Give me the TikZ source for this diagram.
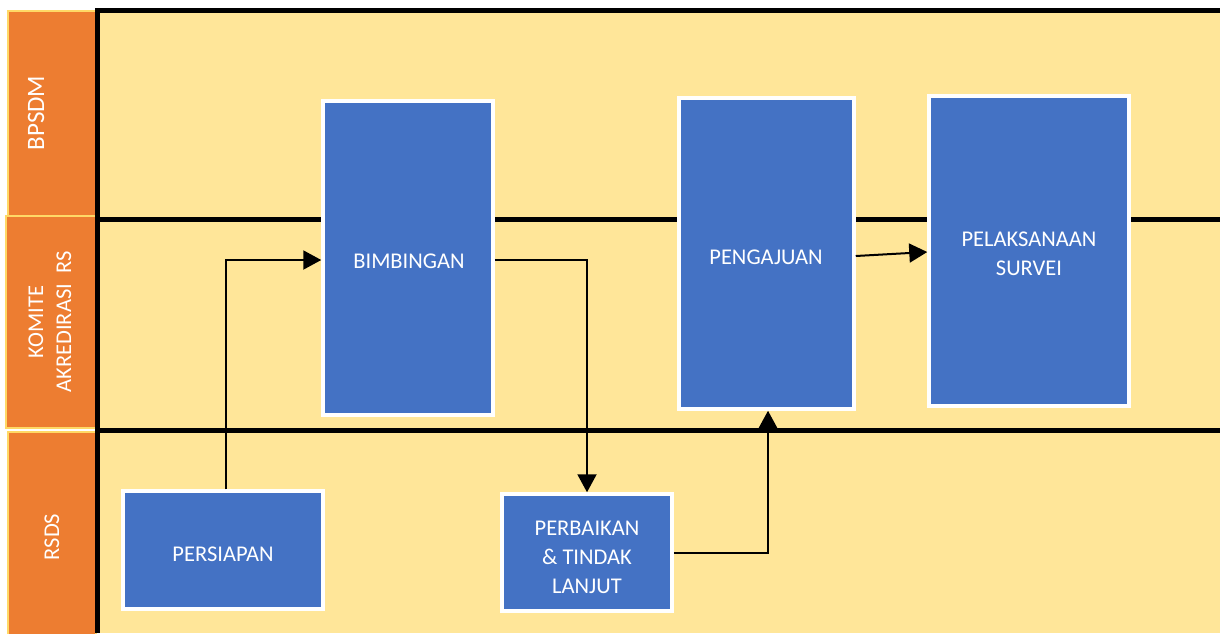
\documentclass[tikz,border=0pt]{standalone}
\usepackage{fontspec}
\setmainfont{Carlito}
\usetikzlibrary{arrows.meta}
\definecolor{lanebg}{HTML}{FFE699}
\definecolor{laneor}{HTML}{ED7D31}
\definecolor{laneedge}{HTML}{FFD966}
\definecolor{boxblue}{HTML}{4472C4}
\tikzset{
  px/.style={x=1pt,y=-1pt},
  boxfont/.style={font=\fontsize{22.5}{29}\selectfont},
  proc/.style={draw=white,line width=3.5pt,fill=boxblue,text=white,inner sep=0pt,
    boxfont,align=center},
  boxlabel/.style={text=white,boxfont,align=center,inner sep=0pt},
  lanebox/.style={fill=laneor,draw=laneedge,line width=1.5pt},
  lanetext/.style={text=white,rotate=90,font=\fontsize{22.5}{28}\selectfont,align=center,inner sep=0pt},
  divider/.style={line width=5pt,black},
  flow/.style={line width=2pt,-{Triangle[length=18pt,width=19pt]}}
}
\begin{document}
\begin{tikzpicture}[px]
\useasboundingbox (0,0) rectangle (1220,633);
\fill[white] (0,0) rectangle (1220,633);
% yellow area
\fill[lanebg] (97,10) rectangle (1220,633);
% orange lane headers
\draw[lanebox] (8,11) rectangle (96,216);
\draw[lanebox] (6,216) rectangle (96,428);
\draw[lanebox] (8,432) rectangle (96,640);
\node[lanetext,font=\fontsize{25}{30}\selectfont] (lbp) at (36,113) {BPSDM};
\node[lanetext] (lkom) at (50,322) {KOMITE\\AKREDIRASI\ \ RS};
\node[lanetext] (lrs) at (52,537) {RSDS};
% lane lines
\draw[divider] (97,10) -- (1220,10);
\draw[divider] (97,8) -- (97,633);
\draw[divider] (97,219) -- (1220,219);
\draw[divider] (97,430) -- (1220,430);
% boxes
\node[proc,minimum width=170pt,minimum height=314pt] (bim) at (408,258) {};
\node[boxlabel] (bimt) at (409,261) {BIMBINGAN};
\node[proc,minimum width=175pt,minimum height=311pt] (pen) at (766.5,253.5) {};
\node[boxlabel] (pent) at (766,257) {PENGAJUAN};
\node[proc,minimum width=200pt,minimum height=310pt] (pel) at (1029,251) {};
\node[boxlabel] (pelt) at (1029,254) {PELAKSANAAN\\SURVEI};
\node[proc,minimum width=200pt,minimum height=118pt] (per) at (223,550) {};
\node[boxlabel] (pert) at (223,554) {PERSIAPAN};
\node[proc,minimum width=170pt,minimum height=117pt] (pbk) at (587,552.5) {};
\node[boxlabel] (pbkt) at (587,557) {PERBAIKAN\\\&\ TINDAK\\LANJUT};
% connectors
\draw[flow] (per.north -| 226,0) |- (bim.west |- 0,260);
\draw[flow] (bim.east |- 0,260) -| (pbk.north);
\draw[flow] (pbk.east |- 0,553) -| (pen.south -| 768,0);
\draw[flow] (pen.east |- 0,256) -- (pel.west |- 0,252);
\end{tikzpicture}
\end{document}
